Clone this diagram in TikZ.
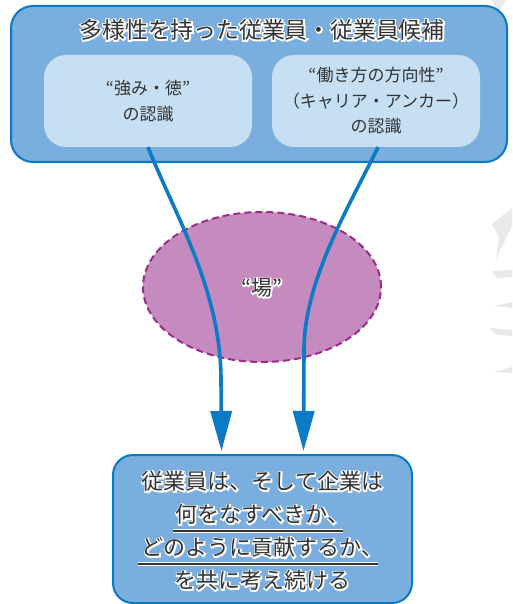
\documentclass[tikz,border=0pt]{standalone}
\usepackage{fontspec}
\setmainfont{Noto Sans CJK JP}
\newfontfamily\halofont[FakeBold=12]{Noto Sans CJK JP}
\usetikzlibrary{arrows.meta,shapes.geometric}
\definecolor{boxblue}{HTML}{79AEDF}
\definecolor{edgeblue}{HTML}{0B7AC3}
\definecolor{paleblue}{HTML}{C6DFF3}
\definecolor{bafill}{HTML}{C58BBE}
\definecolor{baedge}{HTML}{9B2B8C}
\definecolor{arrowblue}{HTML}{0A7BC4}
\definecolor{txt}{HTML}{333333}
\definecolor{wm}{HTML}{E8E9EA}
\newcommand\hl[1]{\leavevmode\rlap{\color{white}\halofont #1}#1}
\tikzset{
  outerbox/.style={draw=edgeblue, line width=2pt, fill=boxblue, rounded corners=22pt, inner sep=0pt},
  innerbox/.style={fill=paleblue, rounded corners=22pt, inner sep=0pt, minimum width=208pt, minimum height=92pt,
    align=center, text=txt, font=\fontsize{17pt}{25.5pt}\selectfont},
  bigtext/.style={text=txt, align=center, inner sep=0pt},
  flow/.style={draw=arrowblue, line width=3.6pt, -{Triangle[length=40pt,width=21pt]}},
  ba/.style={ellipse, draw=baedge, fill=bafill, line width=2pt, dash pattern=on 7pt off 4pt,
    minimum width=238pt, minimum height=150pt, inner sep=0pt},
  uline/.style={line width=1.4pt, draw=txt},
  ulhalo/.style={line width=4pt, draw=white},
  wmark/.style={fill=wm, draw=none}
}
\begin{document}
\begin{tikzpicture}[x=1pt,y=-1pt]
\useasboundingbox (0,0) rectangle (512,604);
% faint background fragments
\fill[wmark] (492,0) -- (506,0) -- (498,13) -- cycle;
\fill[wmark] (492,224) -- (512,208) -- (512,226) -- (496,259) -- (499,238) -- cycle;
\fill[wmark] (491,271) -- (512,270) -- (512,277) -- (497,278) -- cycle;
\fill[wmark] (494,306) -- (512,302) -- (512,308) -- cycle;
\fill[wmark] (490,328) -- (512,330) -- (512,336) -- (496,335) -- cycle;
\fill[wmark] (494,372) -- (512,367) -- (512,373) -- cycle;
% top group
\node[outerbox, minimum width=496pt, minimum height=156pt] (top) at (259,84) {};
\node[bigtext, font=\fontsize{22.8pt}{28pt}\selectfont] (title) at (262,30) {\hl{多様性を持った従業員・従業員候補}};
\node[innerbox] (lbox) at (148,101) {“強み・徳”\\の認識};
\node[innerbox] (rbox) at (376,101) {“働き方の方向性”\\（キャリア・アンカー）\\の認識};
% ba
\node[ba] (ba) at (262,287) {};
% bottom box
\node[outerbox, rounded corners=20pt, minimum width=299pt, minimum height=148pt] (bbox) at (262.5,529) {};
\node[bigtext, font=\fontsize{22pt}{33pt}\selectfont] (btext) at (262.5,531)
  {\hl{従業員は、そして企業は}\\\hl{何をなすべきか、}\\\hl{どのように貢献するか、}\\\hl{を共に考え続ける}};
\draw[ulhalo] ([xshift=-90pt,yshift=-2pt]bbox.center) -- ([xshift=80pt,yshift=-2pt]bbox.center);
\draw[uline] ([xshift=-90pt,yshift=-2pt]bbox.center) -- ([xshift=80pt,yshift=-2pt]bbox.center);
\draw[ulhalo] ([xshift=-125pt,yshift=-35pt]bbox.center) -- ([xshift=115pt,yshift=-35pt]bbox.center);
\draw[uline] ([xshift=-125pt,yshift=-35pt]bbox.center) -- ([xshift=115pt,yshift=-35pt]bbox.center);
% connectors
\draw[flow] (lbox.south) .. controls (175,215) and (221,290) .. (221,380) -- ([xshift=-41pt,yshift=3pt]bbox.north);
\draw[flow] ([xshift=2pt]rbox.south) .. controls (350,205) and (304,280) .. (304,350) -- ([xshift=41pt,yshift=3pt]bbox.north);
\node[bigtext, font=\fontsize{21pt}{26pt}\selectfont] (balabel) at (262,288) {\hl{“場”}};
\end{tikzpicture}
\end{document}
